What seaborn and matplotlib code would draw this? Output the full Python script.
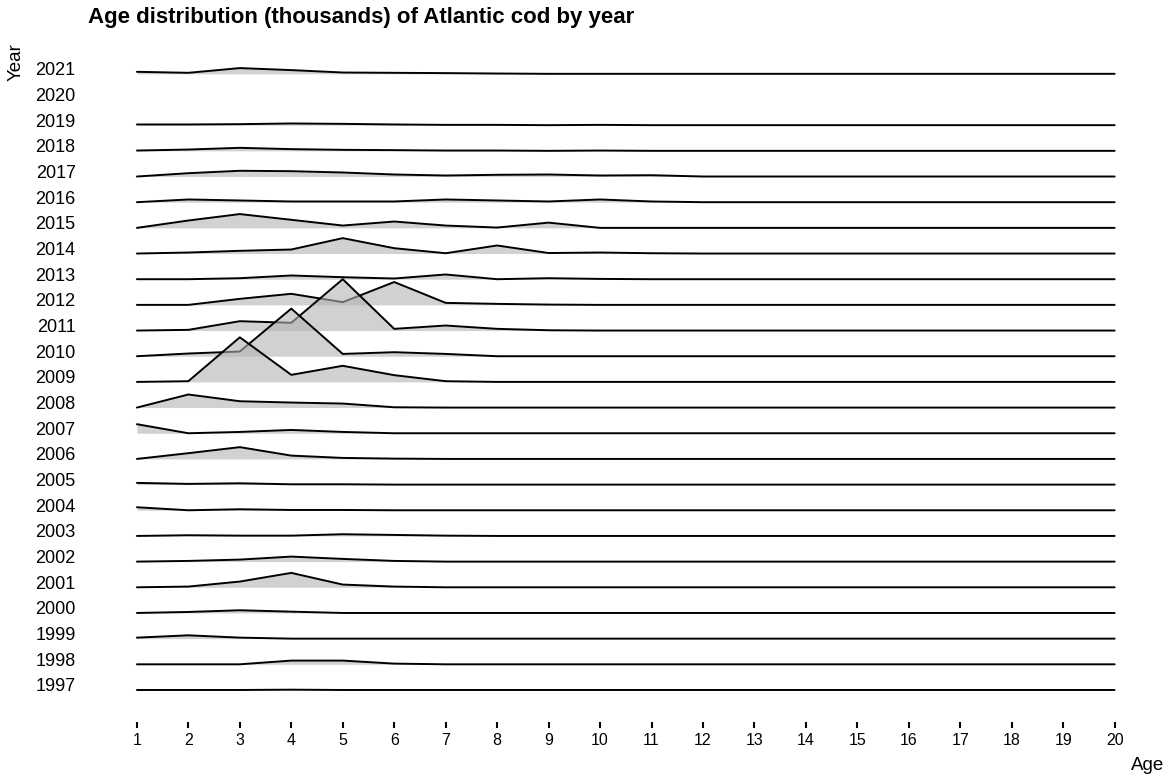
import numpy as np
import pandas as pd
import matplotlib.pyplot as plt
import matplotlib.transforms as mtrans
import seaborn as sns

ages = list(range(1, 21))
years = list(range(1997, 2022))

# numbers at age (thousands), 2020 has no survey
cod = {
    2021: [20, 10, 57, 37, 13, 10, 7, 3, 0, 0, 0, 0, 0, 0, 0, 0, 0, 0, 0, 0],
    2019: [7, 7, 10, 17, 13, 7, 3, 3, 0, 3, 0, 0, 0, 0, 0, 0, 0, 0, 0, 0],
    2018: [3, 13, 30, 17, 10, 7, 3, 3, 0, 3, 0, 0, 0, 0, 0, 0, 0, 0, 0, 0],
    2017: [0, 33, 57, 53, 40, 20, 10, 17, 20, 10, 13, 0, 0, 0, 0, 0, 0, 0, 0, 0],
    2016: [0, 27, 17, 7, 7, 7, 27, 17, 7, 27, 7, 0, 0, 0, 0, 0, 0, 0, 0, 0],
    2015: [0, 73, 137, 80, 23, 63, 23, 3, 52, 0, 0, 0, 0, 0, 0, 0, 0, 0, 0, 0],
    2014: [0, 10, 27, 40, 153, 53, 3, 80, 5, 10, 3, 0, 0, 0, 0, 0, 0, 0, 0, 0],
    2013: [0, 0, 10, 37, 20, 7, 47, 0, 10, 3, 0, 0, 0, 0, 0, 0, 0, 0, 0, 0],
    2012: [0, 0, 60, 110, 27, 227, 20, 10, 3, 0, 0, 0, 0, 0, 0, 0, 0, 0, 0, 0],
    2011: [0, 7, 93, 77, 510, 17, 50, 17, 3, 0, 0, 0, 0, 0, 0, 0, 0, 0, 0, 0],
    2010: [0, 27, 47, 473, 23, 40, 23, 0, 0, 0, 0, 0, 0, 0, 0, 0, 0, 0, 0, 0],
    2009: [0, 7, 443, 70, 160, 67, 7, 0, 0, 0, 0, 0, 0, 0, 0, 0, 0, 0, 0, 0],
    2008: [0, 130, 63, 50, 40, 3, 0, 0, 0, 0, 0, 0, 0, 0, 0, 0, 0, 0, 0, 0],
    2007: [90, 0, 13, 33, 13, 0, 0, 0, 0, 0, 0, 0, 0, 0, 0, 0, 0, 0, 0, 0],
    2006: [0, 57, 117, 33, 10, 3, 0, 0, 0, 0, 0, 0, 0, 0, 0, 0, 0, 0, 0, 0],
    2005: [17, 7, 13, 3, 3, 0, 0, 0, 0, 0, 0, 0, 0, 0, 0, 0, 0, 0, 0, 0],
    2004: [30, 0, 10, 3, 3, 0, 0, 0, 0, 0, 0, 0, 0, 0, 0, 0, 0, 0, 0, 0],
    2003: [0, 7, 3, 3, 17, 10, 3, 0, 0, 0, 0, 0, 0, 0, 0, 0, 0, 0, 0, 0],
    2002: [0, 7, 20, 50, 27, 7, 0, 0, 0, 0, 0, 0, 0, 0, 0, 0, 0, 0, 0, 0],
    2001: [0, 7, 57, 143, 27, 7, 0, 0, 0, 0, 0, 0, 0, 0, 0, 0, 0, 0, 0, 0],
    2000: [0, 10, 27, 13, 0, 0, 0, 0, 0, 0, 0, 0, 0, 0, 0, 0, 0, 0, 0, 0],
    1999: [10, 33, 10, 0, 0, 0, 0, 0, 0, 0, 0, 0, 0, 0, 0, 0, 0, 0, 0, 0],
    1998: [0, 0, 0, 37, 37, 7, 0, 0, 0, 0, 0, 0, 0, 0, 0, 0, 0, 0, 0, 0],
    1997: [0, 0, 0, 3, 0, 0, 0, 0, 0, 0, 0, 0, 0, 0, 0, 0, 0, 0, 0, 0],
}

rows = []
for yr, vals in cod.items():
    for a, v in zip(ages, vals):
        rows.append({'Year': yr, 'Age': a, 'N': v})
df = pd.DataFrame(rows)

# ridgeline scaling: tallest ridge spans 2 rows
scale = 2.0
df['ridge'] = df['Year'] + df['N'] / df['N'].max() * scale

sns.set_theme(style='white')
plt.rcParams['font.family'] = ['Liberation Sans', 'DejaVu Sans']
plt.rcParams['text.color'] = 'black'

fig = plt.figure(figsize=(11.69, 7.83), dpi=100)
ax = fig.add_axes([0.0731, 0.0779, 0.898, 0.8711])

# draw top ridge first so lower ones overlap
for k, yr in enumerate(sorted(cod.keys(), reverse=True)):
    sub = df[df['Year'] == yr]
    ax.fill_between(sub['Age'], yr, sub['ridge'], color='#b3b3b3', alpha=0.6,
                    lw=0, zorder=2 * k + 2)
    sns.lineplot(data=sub, x='Age', y='ridge', color='black', lw=1.4, ax=ax,
                 zorder=2 * k + 3)

ax.set_xlim(0, 20.4)
ax.set_ylim(1995.753, 2022.32)
ax.set_xticks(ages)
ax.set_yticks(years)
ax.set_yticklabels([str(y) for y in years])
ax.set_xlabel('')
ax.set_ylabel('')
for s in ax.spines.values():
    s.set_visible(False)

ax.tick_params(axis='x', bottom=True, length=4, width=1.5, color='black',
               pad=4, labelsize=11.5, labelcolor='black')
ax.tick_params(axis='y', left=False, length=0, pad=7, labelsize=13,
               labelcolor='black')
off = mtrans.ScaledTranslation(0, 5 / 100, fig.dpi_scale_trans)
for lab in ax.get_yticklabels():
    lab.set_transform(lab.get_transform() + off)

fig.text(88 / 1169, 1 - 18 / 783, 'Age distribution (thousands) of Atlantic cod by year',
         fontsize=16, fontweight='bold', ha='left', va='center')
fig.text(16.5 / 1169, 1 - 62 / 783, 'Year', rotation=90, fontsize=13.5,
         ha='center', va='center')
fig.text(1164 / 1169, 1 - 766 / 783, 'Age', fontsize=13.5, ha='right', va='center')

fig.savefig('out.png', dpi=100)
